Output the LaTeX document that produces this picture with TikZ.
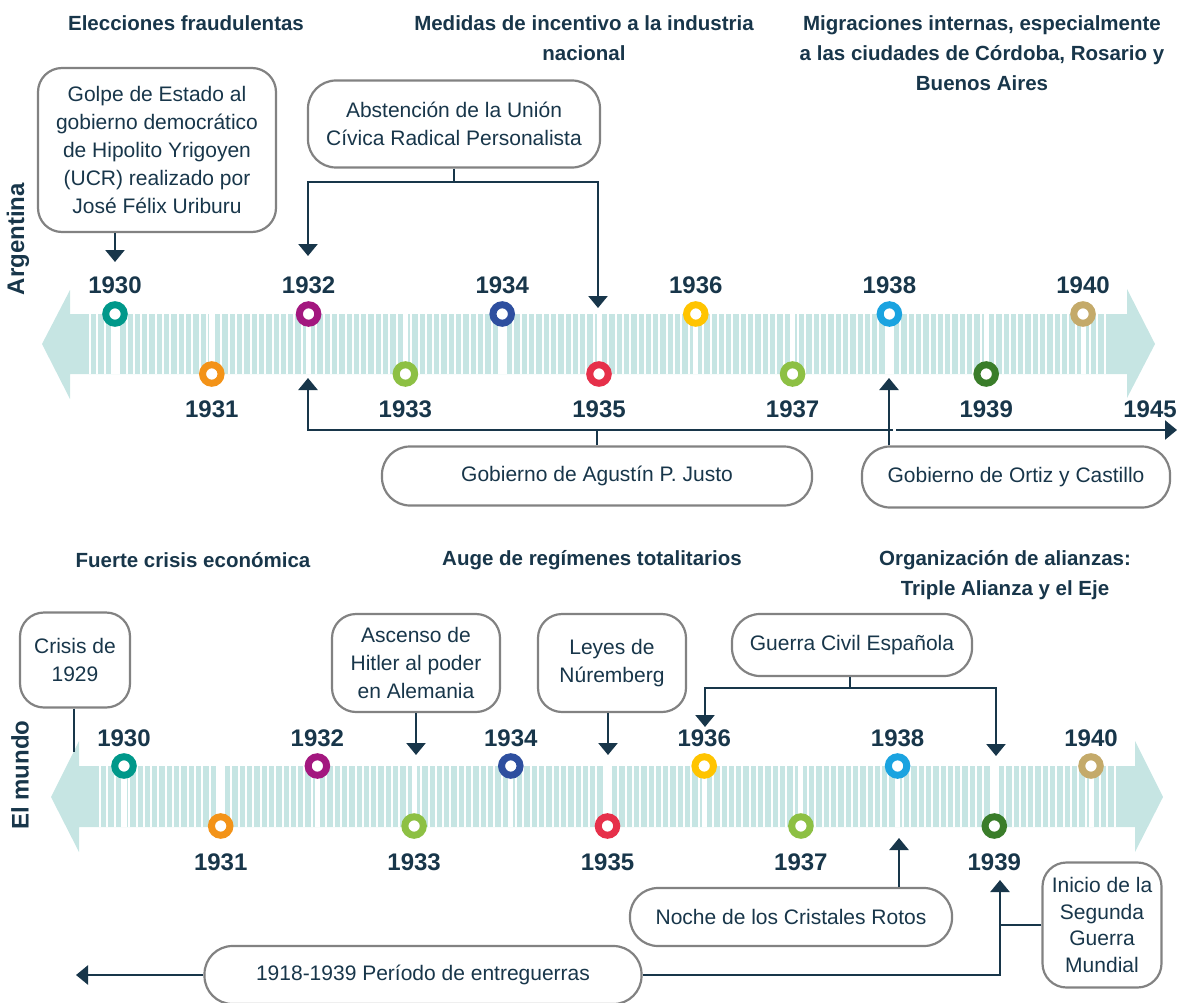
\documentclass[tikz,border=0pt]{standalone}
\usepackage{fontspec}
\setmainfont{Liberation Sans}
\usetikzlibrary{arrows.meta,positioning}

\definecolor{ink}{RGB}{24,54,74}
\definecolor{band}{RGB}{198,229,227}
\definecolor{frame}{RGB}{130,130,130}
\definecolor{c30}{RGB}{0,152,138}
\definecolor{c31}{RGB}{243,147,24}
\definecolor{c32}{RGB}{163,23,127}
\definecolor{c33}{RGB}{141,192,68}
\definecolor{c34}{RGB}{46,79,159}
\definecolor{c35}{RGB}{230,48,74}
\definecolor{c36}{RGB}{255,196,0}
\definecolor{c37}{RGB}{141,192,68}
\definecolor{c38}{RGB}{26,163,224}
\definecolor{c39}{RGB}{58,125,42}
\definecolor{c40}{RGB}{196,170,106}

\tikzset{
  box/.style={draw=frame,line width=2.2pt,fill=white,rounded corners=24pt,inner sep=0pt,
    align=center,text=ink,font=\fontsize{21}{28}\selectfont},
  pill/.style={box,rounded corners=28pt},
  title/.style={text=ink,align=center,inner sep=0pt,font=\bfseries\fontsize{20.5}{30}\selectfont},
  yearlab/.style={text=ink,inner sep=0pt,font=\bfseries\fontsize{24}{24}\selectfont},
  side/.style={text=ink,inner sep=0pt,rotate=90,font=\bfseries\fontsize{24}{24}\selectfont},
  ring/.style={circle,draw=#1,fill=white,line width=7pt,minimum size=18.5pt,inner sep=0pt},
  link/.style={draw=ink,line width=2.5pt},
  arr/.style={link,-{Triangle[width=19pt,length=12pt]}},
  twoarr/.style={link,{Triangle[width=19pt,length=12pt]}-{Triangle[width=19pt,length=12pt]}}
}

\begin{document}
\begin{tikzpicture}[x=1pt,y=-1pt]
\useasboundingbox (0,0) rectangle (1177,1003);

% Argentina
\node[side] (arg) at (18,239) {Argentina};
\node[title] (tElec) at (186,23) {Elecciones fraudulentas};
\node[title] (tMed) at (584,38) {Medidas de incentivo a la industria\\nacional};
\node[title] (tMig) at (982,53) {Migraciones internas, especialmente\\a las ciudades de Córdoba, Rosario y\\Buenos Aires};

\fill[band] (42,344) -- (70,290) -- (70,314) -- (1127,314) -- (1127,289) -- (1155,344)
  -- (1127,398) -- (1127,374) -- (70,374) -- (70,399) -- cycle;
\foreach \x in {90,97.3,...,1110} \draw[white,line width=2pt] (\x,314) -- (\x,374);

\foreach \yr/\col [count=\i from 0] in {1930/c30,1931/c31,1932/c32,1933/c33,1934/c34,1935/c35,
    1936/c36,1937/c37,1938/c38,1939/c39,1940/c40}{
  \pgfmathsetmacro\x{115+96.8*\i}
  \pgfmathtruncatemacro\odd{mod(\i,2)}
  \draw[white,line width=5pt] (\x,314) -- (\x,374);
  \ifnum\odd=0
    \node[ring=\col] (a\yr) at (\x,314) {};
    \node[yearlab] (la\yr) at (\x,285) {\yr};
  \else
    \node[ring=\col] (a\yr) at (\x,374) {};
    \node[yearlab] (la\yr) at (\x,409) {\yr};
  \fi
}
\node[yearlab] (la1945) at (1150,409) {1945};

\node[box,minimum width=238pt,minimum height=164pt] (golpe) at (157,150)
  {Golpe de Estado al\\gobierno democrático\\de Hipolito Yrigoyen\\(UCR) realizado por\\José Félix Uriburu};
\node[box,rounded corners=28pt,minimum width=292pt,minimum height=87pt] (abst) at (454,124)
  {Abstención de la Unión\\Cívica Radical Personalista};
\node[pill,minimum width=430pt,minimum height=59pt] (justo) at (597,476) {Gobierno de Agustín P. Justo};
\node[pill,minimum width=308pt,minimum height=61pt] (ortiz) at (1016,477) {Gobierno de Ortiz y Castillo};

\coordinate (g30) at (115,262);
\coordinate (abJ) at (454,182);
\coordinate (ab32) at (308,256);
\coordinate (ab35) at (598,308);
\coordinate (j32) at (308,378);
\coordinate (jEnd) at (1177,430);
\coordinate (o38) at (889,378);

\draw[arr] (golpe.south -| g30) -- (g30);
\draw[arr] (abst.south) -- (abJ) -| (ab32);
\draw[arr] (abJ) -| (ab35);
\draw[twoarr] (j32) |- (jEnd);
\draw[link] (justo.north) -- (justo.north |- jEnd);
\draw[white,line width=2.5pt] ([xshift=3.5pt]o38 |- jEnd) -- ++(3,0);
\draw[arr] (ortiz.north -| o38) -- (o38);

% El mundo
\node[side] (mundo) at (20,775) {El mundo};
\node[title] (tCri) at (193,560) {Fuerte crisis económica};
\node[title] (tAug) at (592,560) {Auge de regímenes totalitarios};
\node[title] (tOrg) at (1005,575) {Organización de alianzas:\\Triple Alianza y el Eje};

\fill[band] (51,797) -- (79,741) -- (79,766) -- (1135,766) -- (1135,741) -- (1163,797)
  -- (1135,852) -- (1135,827) -- (79,827) -- (79,852) -- cycle;
\foreach \x in {100,107.3,...,1118} \draw[white,line width=2pt] (\x,766) -- (\x,827);

\foreach \yr/\col [count=\i from 0] in {1930/c30,1931/c31,1932/c32,1933/c33,1934/c34,1935/c35,
    1936/c36,1937/c37,1938/c38,1939/c39,1940/c40}{
  \pgfmathsetmacro\x{124+96.7*\i}
  \pgfmathtruncatemacro\odd{mod(\i,2)}
  \draw[white,line width=5pt] (\x,766) -- (\x,827);
  \ifnum\odd=0
    \node[ring=\col] (m\yr) at (\x,766) {};
    \node[yearlab] (lm\yr) at (\x,738) {\yr};
  \else
    \node[ring=\col] (m\yr) at (\x,826) {};
    \node[yearlab] (lm\yr) at (\x,862) {\yr};
  \fi
}

\node[box,minimum width=110pt,minimum height=95pt] (crisis) at (75,660) {Crisis de\\1929};
\node[box,minimum width=168pt,minimum height=98pt] (hitler) at (416,663) {Ascenso de\\Hitler al poder\\en Alemania};
\node[box,minimum width=148pt,minimum height=98pt] (leyes) at (612,663) {Leyes de\\Núremberg};
\node[pill,minimum width=240pt,minimum height=62pt] (guerra) at (852,645) {Guerra Civil Española};
\node[pill,minimum width=322pt,minimum height=58pt] (noche) at (791,917) {Noche de los Cristales Rotos};
\node[pill,minimum width=437pt,minimum height=58pt] (entre) at (423,975) {1918-1939 Período de entreguerras};
\node[box,minimum width=119pt,minimum height=125pt,font=\fontsize{21}{26.5}\selectfont] (inicio) at (1102,925)
  {Inicio de la\\Segunda\\Guerra\\Mundial};

\coordinate (cr) at (74,752);
\coordinate (h33) at (416,755);
\coordinate (l35) at (608,755);
\coordinate (gJ) at (850,688);
\coordinate (g36) at (705,727);
\coordinate (g39) at (996,756);
\coordinate (n38) at (899,838);
\coordinate (eL) at (76,975);
\coordinate (e39) at (1000,880);

\draw[link] (crisis.south -| cr) -- (cr);
\draw[arr] (hitler.south) -- (h33);
\draw[arr] (leyes.south -| l35) -- (l35);
\draw[arr] (guerra.south -| gJ) -- (gJ) -| (g36);
\draw[arr] (gJ) -| (g39);
\draw[arr] (noche.north -| n38) -- (n38);
\draw[arr] (entre.west) -- (eL);
\draw[arr] (entre.east) -| (e39);
\draw[link] (inicio.west) -- (inicio.west -| e39);

\end{tikzpicture}
\end{document}
